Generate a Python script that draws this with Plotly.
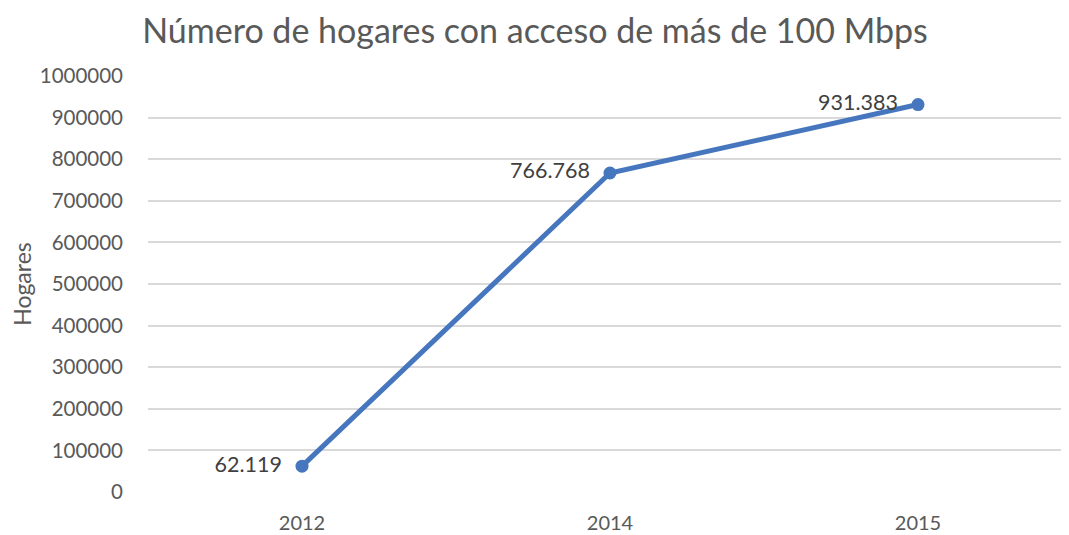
import plotly.graph_objects as go

years = ["2012", "2014", "2015"]
hogares = [62119, 766768, 931383]
y_ticks = [0, 100000, 200000, 300000, 400000, 500000, 600000, 700000, 800000, 900000, 1000000]

FONT = "Lato"
GRAY = "#595959"

fig = go.Figure()
fig.add_trace(go.Scatter(
    x=years, y=hogares,
    mode="lines+markers+text",
    line=dict(color="#4677BE", width=5),
    marker=dict(color="#4677BE", size=13),
    texttemplate="%{y:,}  ",
    textposition="middle left",
    textfont=dict(family=FONT, size=21.5, color="#404040"),
    cliponaxis=False,
    showlegend=False,
))

fig.update_layout(
    width=1069, height=535,
    margin=dict(l=140, r=5, t=68, b=51),
    paper_bgcolor="white", plot_bgcolor="white",
    separators=",.",
    title=dict(text="Número de hogares con acceso de más de 100 Mbps",
               x=0.493, xanchor="center", y=0.956, yanchor="middle",
               font=dict(family=FONT, size=34, color=GRAY)),
    xaxis=dict(type="category", range=[-0.5, 2.5], showgrid=False,
               showline=False, zeroline=False, ticks="",
               tickfont=dict(family=FONT, size=20, color=GRAY),
               ticklabelstandoff=17),
    yaxis=dict(range=[0, 1000000], tickvals=y_ticks, tickformat="d",
               showgrid=True, gridcolor="#D9D9D9", gridwidth=1.5,
               zeroline=False, showline=False, ticks="",
               tickfont=dict(family=FONT, size=20.5, color=GRAY),
               ticklabelstandoff=24,
               title=dict(text="Hogares", standoff=6,
                          font=dict(family=FONT, size=23, color=GRAY))),
)

fig.write_html("out.html")
